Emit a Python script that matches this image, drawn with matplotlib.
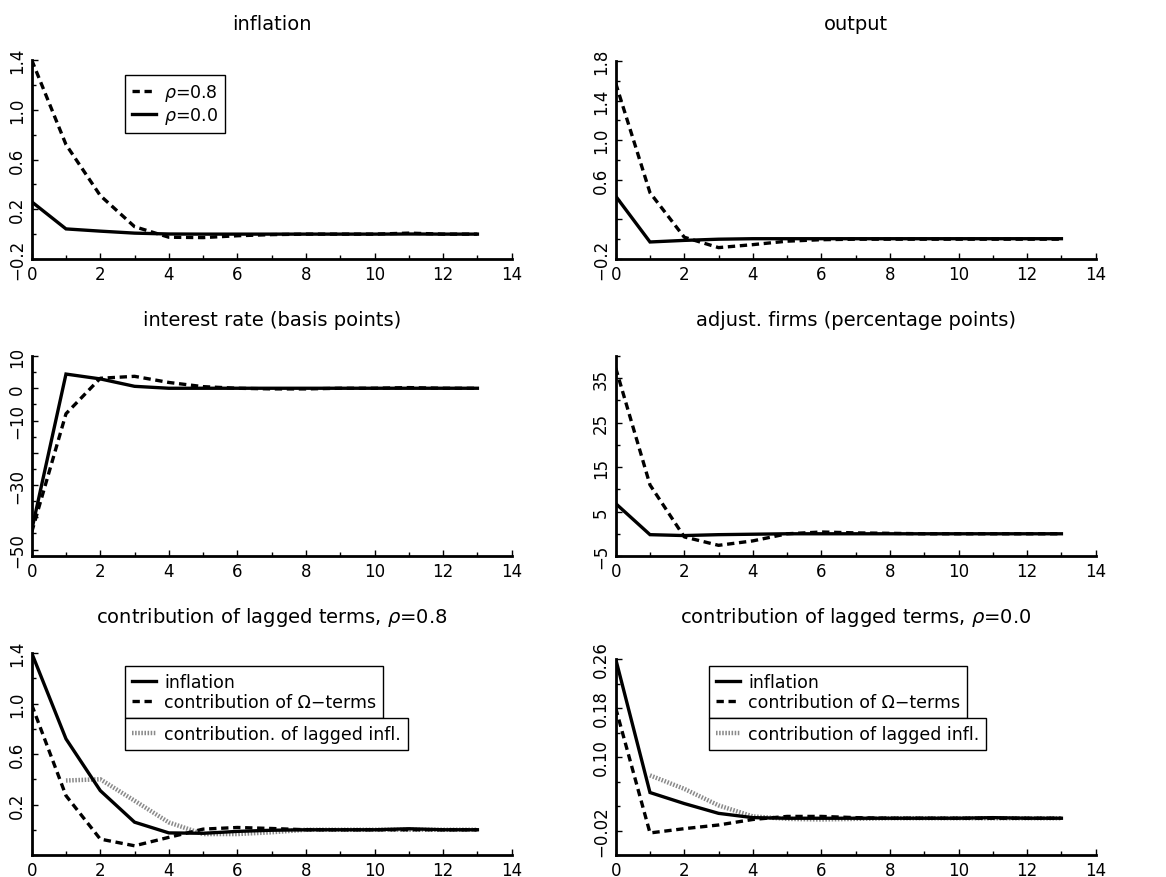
import matplotlib
matplotlib.use("Agg")
import matplotlib.pyplot as plt
from matplotlib.lines import Line2D
from matplotlib.ticker import FixedLocator, MultipleLocator
from matplotlib.transforms import IdentityTransform

# periods after the shock
periods = [0, 1, 2, 3, 4, 5, 6, 7, 8, 9, 10, 11, 12, 13]
lag_periods = [1, 2, 3, 4, 5, 6, 7, 8, 9, 10, 11, 12, 13]

# inflation
infl_rho08 = [1.40, 0.72, 0.31, 0.06, -0.025, -0.028, -0.013, -0.004, 0.0, 0.0, 0.0, 0.008, 0.0, 0.0]
infl_rho00 = [0.26, 0.042, 0.024, 0.008, 0.001, 0.0, 0.0, 0.0, 0.0, 0.0, 0.0, 0.001, 0.0, 0.0]

# output
output_rho08 = [1.575, 0.47, 0.02, -0.085, -0.055, -0.02, -0.005, 0.0, 0.0, 0.0, 0.0, 0.0, 0.0, 0.0]
output_rho00 = [0.435, -0.028, -0.012, 0.0, 0.005, 0.005, 0.005, 0.005, 0.005, 0.005, 0.005, 0.005, 0.005, 0.005]

# interest rate (basis points)
rate_rho08 = [-44.6, -7.9, 3.1, 3.7, 1.8, 0.5, 0.0, -0.2, -0.2, 0.0, 0.0, 0.2, 0.0, 0.0]
rate_rho00 = [-44.0, 4.4, 2.9, 0.6, 0.0, 0.0, 0.0, 0.0, 0.0, 0.0, 0.0, 0.0, 0.0, 0.0]

# adjusting firms (percentage points)
adj_rho08 = [37.3, 11.0, -0.7, -2.6, -1.6, 0.0, 0.4, 0.2, 0.1, 0.0, 0.0, 0.0, 0.0, 0.0]
adj_rho00 = [6.8, -0.2, -0.4, -0.2, -0.1, 0.0, 0.0, 0.0, 0.0, 0.0, 0.0, 0.0, 0.0, 0.0]

# decomposition, rho = 0.8
omega_rho08 = [0.99, 0.27, -0.074, -0.127, -0.06, 0.005, 0.018, 0.01, 0.0, 0.0, 0.0, 0.0, 0.0, 0.0]
lagged_rho08 = [0.39, 0.40, 0.23, 0.058, -0.034, -0.034, -0.02, 0.0, 0.0, 0.0, 0.0, 0.0, 0.0]

# decomposition, rho = 0.0
omega_rho00 = [0.18, -0.024, -0.017, -0.011, -0.002, 0.003, 0.003, 0.001, 0.0, 0.0, 0.0, 0.0, 0.0, 0.0]
lagged_rho00 = [0.07, 0.048, 0.021, 0.003, -0.001, -0.002, -0.001, 0.0, 0.0, 0.0, 0.0, 0.0, 0.0]

titles = ["inflation", "output", "interest rate (basis points)",
          "adjust. firms (percentage points)",
          r"contribution of lagged terms, $\rho$=0.8",
          r"contribution of lagged terms, $\rho$=0.0"]

# y tick values and labels per panel
yt_infl = [-0.2, 0.2, 0.6, 1.0, 1.4]
yl_infl = ["\u22120.2", "0.2", "0.6", "1.0", "1.4"]
yt_out = [-0.2, 0.2, 0.6, 1.0, 1.4, 1.8]
yl_out = ["\u22120.2", "", "0.6", "1.0", "1.4", "1.8"]
yt_rate = [-50, -40, -30, -20, -10, 0, 10]
yl_rate = ["\u221250", "", "\u221230", "", "\u221210", "0", "10"]
yt_adj = [-5, 5, 15, 25, 35]
yl_adj = ["\u22125", "5", "15", "25", "35"]
yt_dec8 = [-0.2, 0.2, 0.6, 1.0, 1.4]
yl_dec8 = ["", "0.2", "0.6", "1.0", "1.4"]
yt_dec0 = [-0.02, 0.10, 0.18, 0.26]
yl_dec0 = ["\u22120.02", "0.10", "0.18", "0.26"]

W, H = 1166, 878
plt.rcParams["font.family"] = ["DejaVu Sans"]
plt.rcParams["mathtext.fontset"] = "dejavusans"

fig = plt.figure(figsize=(W / 100, H / 100), dpi=100)


def box(left, top, bottom):
    return [left / W, 1 - bottom / H, 480 / W, (bottom - top) / H]


SOLID = dict(color="black", lw=2.4, solid_joinstyle="miter")
DASHED = dict(color="black", lw=2.4, linestyle=(0, (2.2, 1.4)))
DOTTED = dict(color="#8a8a8a", lw=3.2, linestyle=(0, (0.35, 0.35)))


def style(ax, title, ylim, yticks, ylabels, yminor, pad=22):
    ax.set_xlim(0, 14)
    ax.set_ylim(*ylim)
    for s in ("top", "right"):
        ax.spines[s].set_visible(False)
    for s in ("left", "bottom"):
        ax.spines[s].set_linewidth(2.0)
    ax.set_xticks([0, 2, 4, 6, 8, 10, 12, 14])
    ax.xaxis.set_minor_locator(MultipleLocator(1))
    ax.set_yticks(yticks)
    ax.set_yticklabels(ylabels, rotation=90, va="center")
    ax.yaxis.set_minor_locator(FixedLocator(yminor))
    ax.tick_params(which="major", direction="in", length=4, width=1, labelsize=12, pad=4)
    ax.tick_params(which="minor", direction="in", length=3, width=1)
    ax.set_title(title, fontsize=14, pad=pad)


def legend(ax, handles, anchor, transform=None):
    kw = {}
    if transform is not None:
        kw["bbox_transform"] = transform
    leg = ax.legend(handles=handles, loc="upper left", bbox_to_anchor=anchor,
                    frameon=True, fancybox=False, edgecolor="black", framealpha=1,
                    handlelength=1.4, handletextpad=0.45, borderpad=0.4,
                    labelspacing=0.15, fontsize=12.5, borderaxespad=0, **kw)
    leg.get_frame().set_linewidth(1.0)
    return leg


# inflation
ax = fig.add_axes(box(31.7, 61, 260))
ax.plot(periods, infl_rho08, **DASHED)
ax.plot(periods, infl_rho00, **SOLID)
style(ax, titles[0], (-0.2, 1.4), yt_infl, yl_infl, [0.0, 0.4, 0.8, 1.2])
legend(ax, [Line2D([], [], **DASHED, label=r"$\rho$=0.8"),
            Line2D([], [], **SOLID, label=r"$\rho$=0.0")], (0.194, 0.925))

# output
ax = fig.add_axes(box(615.7, 62, 260))
ax.plot(periods, output_rho08, **DASHED)
ax.plot(periods, output_rho00, **SOLID)
style(ax, titles[1], (-0.2, 1.8), yt_out, yl_out, [0.0, 0.4, 0.8, 1.2, 1.6], pad=22.7)

# interest rate
ax = fig.add_axes(box(31.7, 357, 557))
ax.plot(periods, rate_rho08, **DASHED)
ax.plot(periods, rate_rho00, **SOLID)
style(ax, titles[2], (-52, 10), yt_rate, yl_rate, [-45, -35, -25, -15, -5, 5])

# adjusting firms
ax = fig.add_axes(box(615.7, 357, 557))
ax.plot(periods, adj_rho08, **DASHED)
ax.plot(periods, adj_rho00, **SOLID)
style(ax, titles[3], (-5, 40), yt_adj, yl_adj, [0, 10, 20, 30, 40])

# decomposition panels: two stacked legend boxes each
decomp = [
    (box(31.7, 654, 856), titles[4], lagged_rho08, omega_rho08, infl_rho08,
     (-0.2, 1.4), yt_dec8, yl_dec8, [0.0, 0.4, 0.8, 1.2], "contribution. of lagged infl.", 0.936, 22),
    (box(615.7, 660, 856), titles[5], lagged_rho00, omega_rho00, infl_rho00,
     (-0.06, 0.26), yt_dec0, yl_dec0, [-0.06, 0.02, 0.06, 0.14, 0.22], "contribution of lagged infl.", 0.965, 26.3),
]
pending = []
for pos, title, lagged, omega, infl, ylim, yt, yl, ym, lab, top, pad in decomp:
    ax = fig.add_axes(pos)
    ax.plot(lag_periods, lagged, **DOTTED)
    ax.plot(periods, omega, **DASHED)
    ax.plot(periods, infl, **SOLID)
    style(ax, title, ylim, yt, yl, ym, pad=pad)
    leg1 = legend(ax, [Line2D([], [], **SOLID, label="inflation"),
                       Line2D([], [], **DASHED, label="contribution of \u03a9\u2212terms")],
                  (0.194, top))
    ax.add_artist(leg1)
    pending.append((ax, leg1, lab))

fig.canvas.draw()
for ax, leg1, lab in pending:
    bb = leg1.get_window_extent()
    legend(ax, [Line2D([], [], **DOTTED, label=lab)], (bb.x0, bb.y0), IdentityTransform())

fig.savefig("out.png", dpi=100)
